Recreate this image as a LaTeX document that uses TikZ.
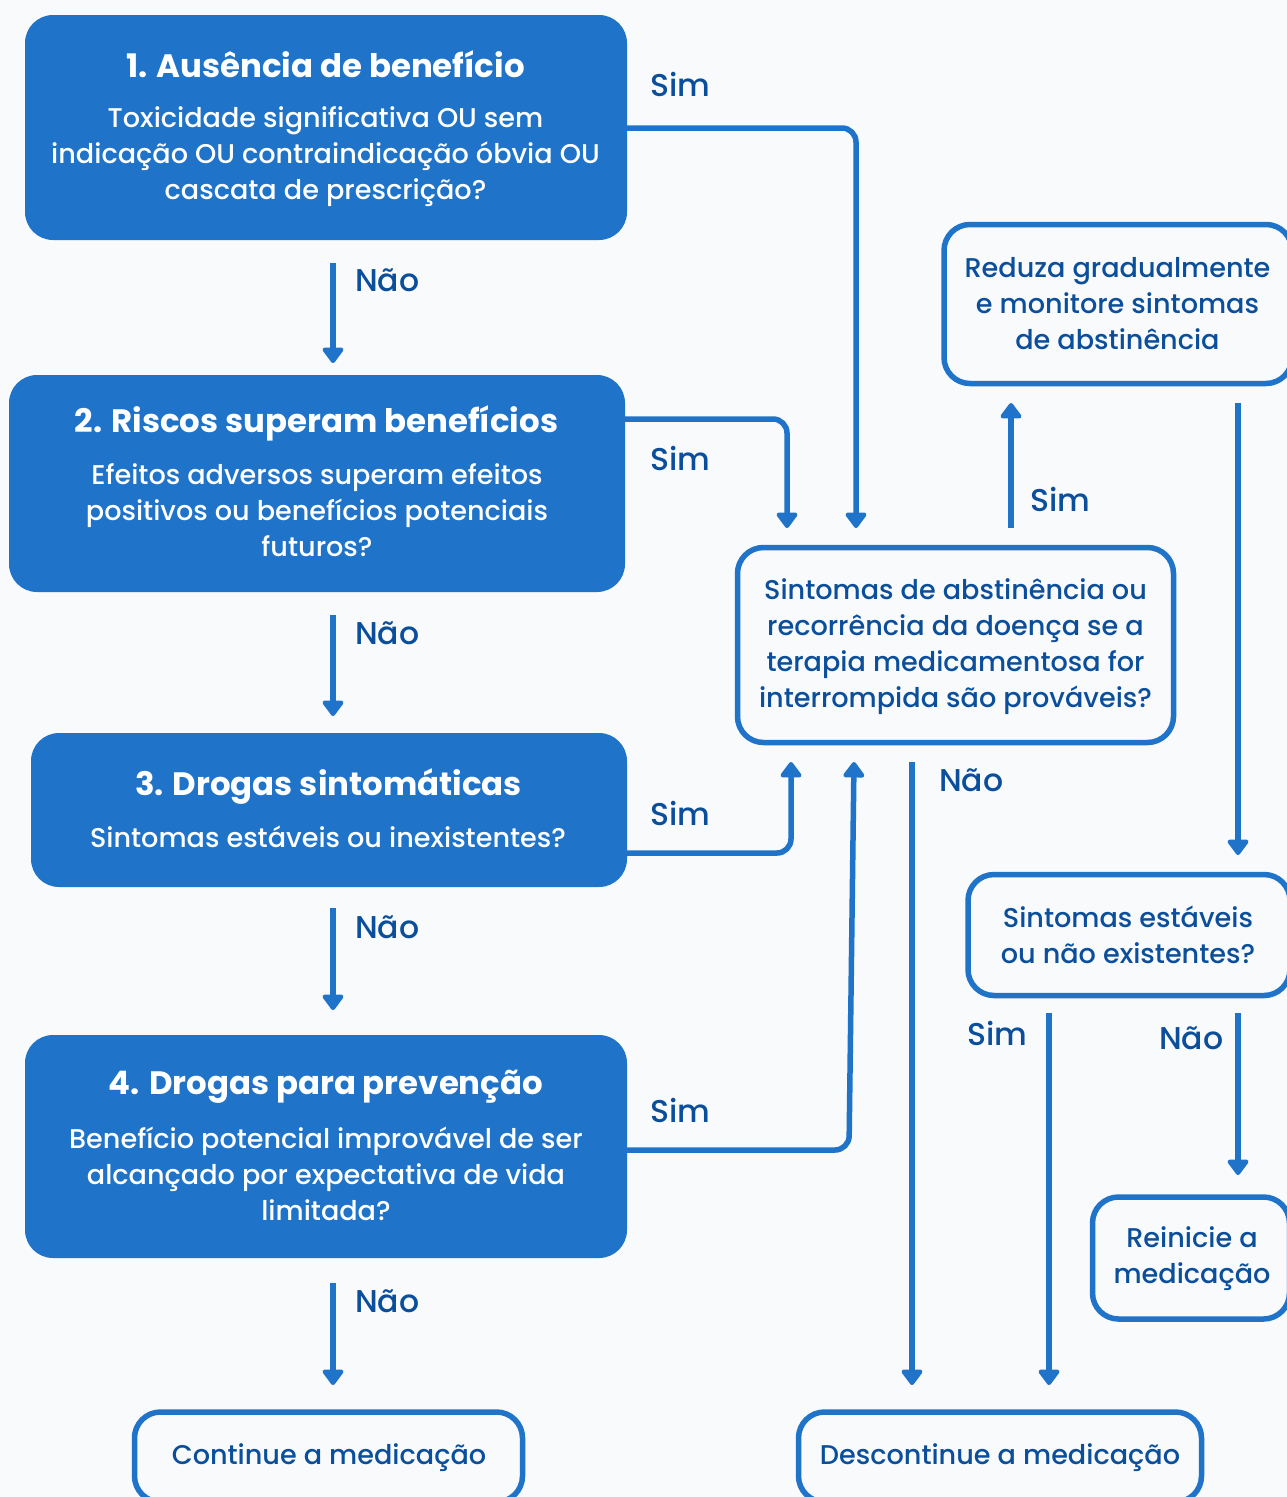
\documentclass[tikz,border=0pt]{standalone}
\usepackage{fontspec}
\setmainfont{Poppins}[UprightFont=* Medium, BoldFont=* Bold]
\usetikzlibrary{arrows.meta,calc}
\definecolor{boxblue}{HTML}{1F73C9}
\definecolor{txtblue}{HTML}{0B4F9C}
\definecolor{bgcol}{HTML}{F8FAFB}
\newcommand{\titlefnt}{\bfseries\fontsize{32.4}{38}\selectfont}
\newcommand{\bodyfnt}{\fontsize{27.1}{36}\selectfont}
\newcommand{\lblfnt}{\fontsize{31.5}{36}\selectfont}
\begin{document}
\begin{tikzpicture}[x=1pt,y=-1pt,
  filledbox/.style={fill=boxblue, rounded corners=28pt, inner sep=0pt},
  outlbox/.style={draw=boxblue, line width=5.5pt, rounded corners=26pt, inner sep=0pt},
  titletxt/.style={text=white, font=\titlefnt, align=center, inner sep=0pt},
  bodytxt/.style={text=white, font=\bodyfnt, align=center, inner sep=0pt},
  darktxt/.style={text=txtblue, font=\bodyfnt, align=center, inner sep=0pt},
  lbl/.style={text=txtblue, font=\lblfnt, anchor=base west, inner sep=0pt},
  conn/.style={draw=boxblue, line width=5.5pt, rounded corners=14pt,
    -{Triangle[width=24pt,length=17pt,round]}}
]
\path[use as bounding box, fill=bgcol] (0,0) rectangle (1287,1497);

% filled boxes
\node[filledbox, minimum width=602pt, minimum height=225pt] (b1) at (326,127.5) {};
\node[filledbox, minimum width=616pt, minimum height=217pt] (b2) at (317,483.5) {};
\node[filledbox, minimum width=596pt, minimum height=154pt] (b3) at (329,810) {};
\node[filledbox, minimum width=602pt, minimum height=223pt] (b4) at (326,1146.5) {};

\node[titletxt] (b1t) at (325.5,64) {1. Ausência de benefício};
\node[bodytxt] (b1b) at (325.5,157) {Toxicidade significativa OU sem\\indicação OU contraindicação óbvia OU\\cascata de prescrição?};
\node[titletxt] (b2t) at (316.5,423) {2. Riscos superam benefícios};
\node[bodytxt] (b2b) at (317,510) {Efeitos adversos superam efeitos\\positivos ou benefícios potenciais\\futuros?};
\node[titletxt] (b3t) at (328.5,786) {3. Drogas sintomáticas};
\node[bodytxt] (b3b) at (328,837) {Sintomas estáveis ou inexistentes?};
\node[titletxt] (b4t) at (326,1087) {4. Drogas para prevenção};
\node[bodytxt] (b4b) at (326,1174) {Benefício potencial improvável de ser\\alcançado por expectativa de vida\\limitada?};

% outlined boxes
\node[outlbox, minimum width=388pt, minimum height=90pt] (cont) at (328.5,1457) {};
\node[darktxt] (contt) at (329,1458) {Continue a medicação};
\node[outlbox, minimum width=403pt, minimum height=90pt] (desc) at (1000,1457) {};
\node[darktxt] (desct) at (1000,1458) {Descontinue a medicação};
\node[outlbox, minimum width=436pt, minimum height=195pt] (cen) at (955.5,645) {};
\node[darktxt] (cent) at (955.5,647) {Sintomas de abstinência ou\\recorrência da doença se a\\terapia medicamentosa for\\interrompida são prováveis?};
\node[outlbox, minimum width=348pt, minimum height=159pt] (red) at (1118,304) {};
\node[darktxt] (redt) at (1117.5,304) {Reduza gradualmente\\e monitore sintomas\\de abstinência};
\node[outlbox, minimum width=322pt, minimum height=121pt] (est) at (1129,935) {};
\node[darktxt] (estt) at (1128,935) {Sintomas estáveis\\ou não existentes?};
\node[outlbox, minimum width=197pt, minimum height=122pt] (rei) at (1191,1258) {};
\node[darktxt] (reit) at (1192,1259) {Reinicie a\\medicação};

% connector end points
\coordinate (n1a) at (333,263); \coordinate (n1b) at (333,363);
\coordinate (n2a) at (333,615); \coordinate (n2b) at (333,716);
\coordinate (n3a) at (333,908); \coordinate (n3b) at (333,1010);
\coordinate (n4a) at (333,1283); \coordinate (n4b) at (333,1385);
\coordinate (s1a) at (627,128); \coordinate (s1b) at (856,528);
\coordinate (s2a) at (625,419); \coordinate (s2b) at (787,528);
\coordinate (s3a) at (627,853); \coordinate (s3b) at (791,762);
\coordinate (s4a) at (627,1150); \coordinate (s4m) at (849,1150); \coordinate (s4b) at (854,762);
\coordinate (cya) at (1011,528); \coordinate (cyb) at (1011,403);
\coordinate (cna) at (912,762); \coordinate (cnb) at (912,1385);
\coordinate (rda) at (1238,403); \coordinate (rdb) at (1238,855);
\coordinate (eya) at (1049,1013); \coordinate (eyb) at (1049,1385);
\coordinate (ena) at (1238,1013); \coordinate (enb) at (1238,1175);

\draw[conn] (n1a) -- (n1b);
\draw[conn] (n2a) -- (n2b);
\draw[conn] (n3a) -- (n3b);
\draw[conn] (n4a) -- (n4b);
\draw[conn] (s1a) -| (s1b);
\draw[conn] (s2a) -| (s2b);
\draw[conn] (s3a) -| (s3b);
\draw[conn] (s4a) -- (s4m) -- (s4b);
\draw[conn] (cya) -- (cyb);
\draw[conn] (cna) -- (cnb);
\draw[conn] (rda) -- (rdb);
\draw[conn] (eya) -- (eyb);
\draw[conn] (ena) -- (enb);

% labels
\node[lbl] (l1) at (650,96) {Sim};
\node[lbl] (l2) at (355,291) {Não};
\node[lbl] (l3) at (650,470) {Sim};
\node[lbl] (l4) at (355,644) {Não};
\node[lbl] (l5) at (650,825) {Sim};
\node[lbl] (l6) at (355,938) {Não};
\node[lbl] (l7) at (650,1122) {Sim};
\node[lbl] (l8) at (355,1312) {Não};
\node[lbl] (l9) at (1030,511) {Sim};
\node[lbl] (l10) at (939,791) {Não};
\node[lbl] (l11) at (967,1045) {Sim};
\node[lbl] (l12) at (1159,1049) {Não};
\end{tikzpicture}
\end{document}
